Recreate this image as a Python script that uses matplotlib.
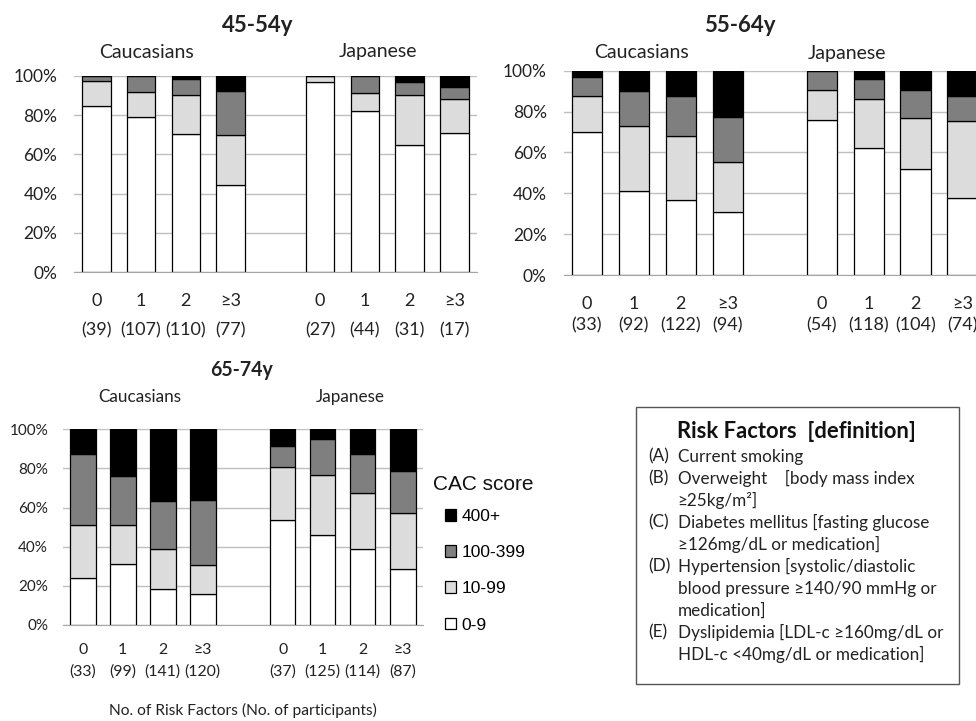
import matplotlib
matplotlib.use("Agg")
import matplotlib.pyplot as plt
import numpy as np
from matplotlib.patches import Rectangle

plt.rcParams["font.family"] = ["Lato", "DejaVu Sans"]

W, H = 976, 721

risk_labels = ["0", "1", "2", "≥3"]
cac_levels = ["0-9", "10-99", "100-399", "400+"]
cac_colors = ["#ffffff", "#dcdcdc", "#7f7f7f", "#000000"]

# Caucasians (4 bars) then Japanese (4 bars), percent of participants
n_45 = [39, 107, 110, 77, 27, 44, 31, 17]
cac0_45 = [84.7, 78.8, 70.2, 44.2, 96.6, 81.9, 64.7, 70.7]
cac10_45 = [12.8, 12.9, 20.0, 25.8, 3.4, 9.1, 25.6, 17.6]
cac100_45 = [2.5, 8.3, 8.1, 22.4, 0.0, 9.0, 6.3, 5.8]
cac400_45 = [0.0, 0.0, 1.7, 7.6, 0.0, 0.0, 3.4, 5.9]

n_55 = [33, 92, 122, 94, 54, 118, 104, 74]
cac0_55 = [69.8, 41.3, 36.9, 30.8, 76.0, 62.0, 51.9, 37.8]
cac10_55 = [18.0, 31.6, 31.1, 24.3, 14.7, 24.3, 25.1, 37.7]
cac100_55 = [8.9, 17.1, 19.4, 22.4, 9.3, 9.5, 13.4, 12.3]
cac400_55 = [3.3, 10.0, 12.6, 22.5, 0.0, 4.2, 9.6, 12.2]

n_65 = [33, 99, 141, 120, 37, 125, 114, 87]
cac0_65 = [24.2, 31.2, 18.4, 15.7, 53.8, 46.2, 38.7, 28.8]
cac10_65 = [27.1, 20.1, 20.4, 15.0, 27.1, 30.6, 28.6, 28.6]
cac100_65 = [36.1, 25.0, 24.4, 33.0, 10.6, 18.1, 19.9, 21.5]
cac400_65 = [12.6, 23.7, 36.8, 36.3, 8.5, 5.1, 12.8, 21.1]

risk_definitions = [
    ("(A)", ["Current smoking"]),
    ("(B)", ["Overweight    [body mass index", "≥25kg/m²]"]),
    ("(C)", ["Diabetes mellitus [fasting glucose", "≥126mg/dL or medication]"]),
    ("(D)", ["Hypertension [systolic/diastolic", "blood pressure ≥140/90 mmHg or", "medication]"]),
    ("(E)", ["Dyslipidemia [LDL-c ≥160mg/dL or", "HDL-c <40mg/dL or medication]"]),
]


def fx(px):
    return px / W


def fy(py):
    return 1 - py / H


def panel(rect_px, title, title_px, group_px, n, stacks, count_spacing, scale=1.0):
    left, top, right, bottom = rect_px
    ax = fig.add_axes([fx(left), fy(bottom), fx(right) - fx(left), fy(top) - fy(bottom)])
    x = np.r_[0:4, 5:9]
    base = np.zeros(len(x))
    bars = []
    for vals, color, lab in zip(stacks, cac_colors, cac_levels):
        b = ax.bar(x, vals, 0.64, bottom=base, color=color, edgecolor="black",
                   linewidth=0.9, label=lab)
        bars.append(b)
        base += np.array(vals)
    ax.set_xlim(-0.5, 8.5)
    ax.set_ylim(0, 100)
    ax.set_yticks(np.arange(0, 101, 20))
    ax.set_yticklabels([f"{v}%" for v in range(0, 101, 20)])
    ax.set_xticks(x)
    ax.set_xticklabels([f"{r}\n({c})" for r, c in zip(risk_labels * 2, n)],
                       linespacing=count_spacing)
    ax.tick_params(axis="both", length=0, colors="#222222")
    ax.tick_params(axis="x", pad=15 * scale, labelsize=13 * scale)
    ax.tick_params(axis="y", pad=12 * scale, labelsize=12.5 * scale)
    ax.set_axisbelow(True)
    ax.yaxis.grid(True, color="#bfbfbf", linewidth=1)
    for s in ["left", "right", "top"]:
        ax.spines[s].set_visible(False)
    ax.spines["bottom"].set_color("#a6a6a6")
    fig.text(fx(title_px[0]), fy(title_px[1]), title, ha="center", va="center",
             fontsize=16 * scale, fontweight="bold", color="#222222")
    for name, (gx, gy) in zip(["Caucasians", "Japanese"], group_px):
        fig.text(fx(gx), fy(gy), name, ha="center", va="center", fontsize=14 * scale,
                 color="#222222")
    return ax, bars


fig = plt.figure(figsize=(W / 100, H / 100), dpi=100)

panel((74, 75.7, 476.7, 272.3), "45-54y", (258, 25), [(147, 52), (378, 52)],
      n_45, [cac0_45, cac10_45, cac100_45, cac400_45], 2.0)
panel((563.5, 70.7, 985.9, 275), "55-64y", (740, 25), [(641.7, 53), (846.7, 53)],
      n_55, [cac0_55, cac10_55, cac100_55, cac400_55], 1.45)
ax3, bars3 = panel((62.7, 429.3, 422.7, 625), "65-74y", (241.7, 370),
                   [(140, 397), (350, 397)],
                   n_65, [cac0_65, cac10_65, cac100_65, cac400_65], 1.65, scale=0.88)

fig.text(fx(243), fy(710), "No. of Risk Factors (No. of participants)", ha="center",
         va="center", fontsize=11.2, color="#222222")

# CAC legend
fig.text(fx(433), fy(484), "CAC score", ha="left", va="center", fontsize=15,
         family="Liberation Sans", color="#111111")
fig.legend(bars3[::-1], cac_levels[::-1], loc="upper left",
           bbox_to_anchor=(fx(445), fy(509)), frameon=False, borderpad=0,
           borderaxespad=0, handlelength=0.66, handleheight=0.66,
           handletextpad=0.3, labelspacing=1.22,
           prop={"family": "Liberation Sans", "size": 12.5})

# risk factor definitions box
fig.add_artist(Rectangle((fx(636), fy(684)), fx(959.3) - fx(636), fy(407.3) - fy(684),
                         transform=fig.transFigure, fill=False, edgecolor="#555555",
                         linewidth=1))
fig.text(fx(796.7), fy(431.7), "Risk Factors  [definition]", ha="center", va="center",
         fontsize=15.8, fontweight="bold", color="#111111")
row = 0
for tag, lines in risk_definitions:
    fig.text(fx(648), fy(456.7 + row * 22), tag, ha="left", va="center",
             fontsize=12.3, color="#222222")
    for line in lines:
        fig.text(fx(677.7), fy(456.7 + row * 22), line, ha="left", va="center",
                 fontsize=12.3, color="#222222")
        row += 1

fig.savefig("out.png", dpi=100)
